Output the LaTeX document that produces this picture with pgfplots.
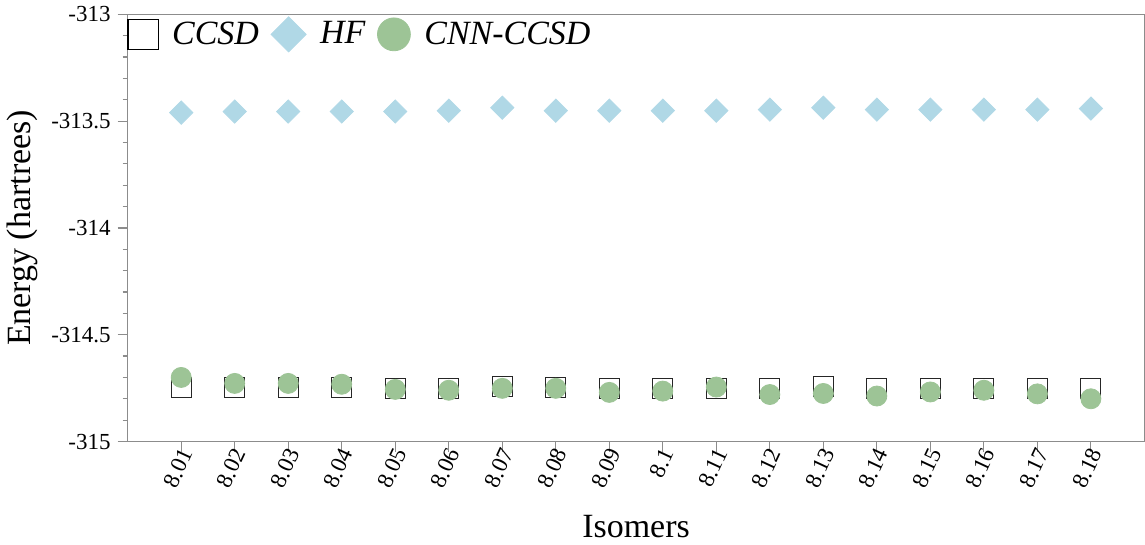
\documentclass[border=0pt]{standalone}
\usepackage{fontspec}
\setmainfont{Liberation Serif}
\usepackage{pgfplots}
\pgfplotsset{compat=1.18}
\usepackage{pgfplotstable}
\definecolor{hfblue}{RGB}{176,216,230}
\definecolor{cnngreen}{RGB}{157,196,150}
\definecolor{axgray}{RGB}{140,140,140}

% energies (hartrees), isomers indexed 0..17 = 8.01..8.18
\pgfplotstableread{
idx ccsd     hf       cnn
0   -314.749 -313.460 -314.700
1   -314.749 -313.455 -314.728
2   -314.749 -313.455 -314.728
3   -314.749 -313.455 -314.732
4   -314.754 -313.455 -314.756
5   -314.754 -313.451 -314.760
6   -314.742 -313.437 -314.751
7   -314.749 -313.451 -314.751
8   -314.754 -313.451 -314.770
9   -314.750 -313.451 -314.764
10  -314.750 -313.451 -314.745
11  -314.750 -313.446 -314.780
12  -314.742 -313.437 -314.775
13  -314.750 -313.446 -314.787
14  -314.750 -313.446 -314.768
15  -314.750 -313.446 -314.760
16  -314.750 -313.446 -314.777
17  -314.750 -313.441 -314.800
}\energies

\begin{document}
\begin{tikzpicture}
\begin{axis}[
    scale only axis,
    width=507bp, height=213bp,
    xmin=-1, xmax=18,
    ymin=-315, ymax=-313,
    xtick={0,...,17},
    xticklabels={8.01,8.02,8.03,8.04,8.05,8.06,8.07,8.08,8.09,8.1,8.11,8.12,8.13,8.14,8.15,8.16,8.17,8.18},
    ytick={-315,-314.5,-314,-313.5,-313},
    minor y tick num=4,
    tick align=outside,
    tick pos=left,
    major tick length=5bp,
    minor tick length=2.5bp,
    axis line style={axgray, line width=0.6bp},
    every tick/.style={axgray, line width=0.6bp},
    /pgf/number format/assume math mode=true,
    ticklabel style={font=\fontsize{11.5}{13}\selectfont},
    x tick label style={rotate=65, anchor=east, inner sep=1bp, xshift=3bp, yshift=-2bp},
    xlabel={Isomers},
    ylabel={Energy (hartrees)},
    label style={font=\fontsize{17}{20}\selectfont},
    xlabel style={yshift=-8bp},
    legend columns=-1,
    legend style={draw=none, fill=none, at={(0,1)}, anchor=north west,
        xshift=-3bp, yshift=1bp,
        font=\fontsize{17}{20}\selectfont\itshape,
        /tikz/every odd column/.append style={column sep=5bp},
        /tikz/every even column/.append style={column sep=4bp}},
]
\addlegendimage{only marks, mark=square, mark size=7.5bp, mark options={draw=black, line width=0.6bp}}
\addlegendentry{CCSD}
\addlegendimage{only marks, mark=square*, mark size=6.2bp, mark options={rotate=45, draw=hfblue, fill=hfblue}}
\addlegendentry{HF}
\addlegendimage{only marks, mark=*, mark size=8.2bp, mark options={draw=cnngreen, fill=cnngreen}}
\addlegendentry{CNN-CCSD}

\addplot[forget plot, only marks, mark=square, mark size=5bp, mark options={draw=black!85, line width=0.5bp}]
    table[x=idx, y=ccsd] {\energies};
\addplot[forget plot, only marks, mark=square*, mark size=4.1bp, mark options={rotate=45, draw=hfblue, fill=hfblue}]
    table[x=idx, y=hf] {\energies};
\addplot[forget plot, only marks, mark=*, mark size=5bp, mark options={draw=cnngreen, fill=cnngreen}]
    table[x=idx, y=cnn] {\energies};
\end{axis}
\end{tikzpicture}
\end{document}
